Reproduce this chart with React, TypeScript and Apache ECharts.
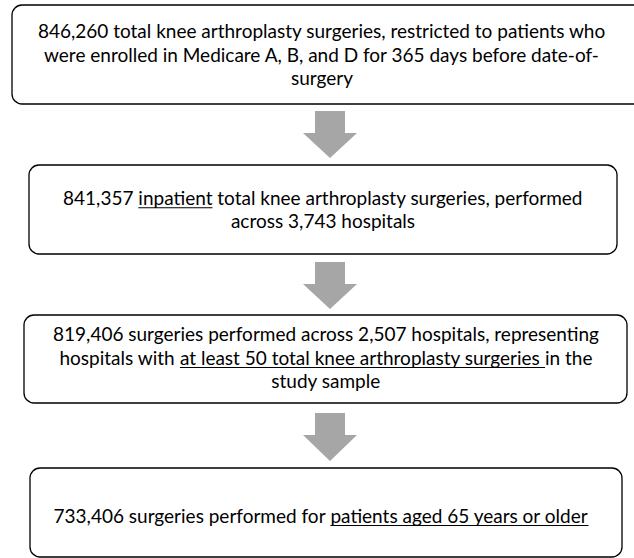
import React, { useEffect, useRef } from "react";
import * as echarts from "echarts";

type Seg = { t: string; u?: boolean };

const box1Lines: Seg[][] = [
  [{ t: "846,260 total knee arthroplasty surgeries, restricted to patients who" }],
  [{ t: "were enrolled in Medicare A, B, and D for 365 days before date-of-" }],
  [{ t: "surgery" }],
];
const box2Lines: Seg[][] = [
  [{ t: "841,357 " }, { t: "inpatient", u: true }, { t: " total knee arthroplasty surgeries, performed" }],
  [{ t: "across 3,743 hospitals" }],
];
const box3Lines: Seg[][] = [
  [{ t: "819,406 surgeries performed across 2,507 hospitals, representing" }],
  [{ t: "hospitals with " }, { t: "at least 50 total knee arthroplasty surgeries ", u: true }, { t: "in the" }],
  [{ t: "study sample" }],
];
const box4Lines: Seg[][] = [
  [{ t: "733,406 surgeries performed for " }, { t: "patients aged 65 years or older", u: true }],
];

const boxes = [
  { x: 12, y: 5, w: 640, h: 99, lines: box1Lines },
  { x: 29, y: 165, w: 588, h: 89, lines: box2Lines },
  { x: 24, y: 315, w: 603, h: 88, lines: box3Lines },
  { x: 30, y: 468, w: 592, h: 89, lines: box4Lines },
];
const arrows = [
  { top: 111, neck: 133, tip: 158 },
  { top: 262, neck: 284, tip: 309 },
  { top: 413, neck: 435, tip: 461 },
];

const FONT_SIZE = 19;
const FONT_FAMILY = "Lato";
const LINE_H = 23.5;

export default function App() {
  const ref = useRef<HTMLDivElement>(null);
  useEffect(() => {
    if (!ref.current) return;
    const chart = echarts.init(ref.current, null, { renderer: "svg" });
    const canvas = document.createElement("canvas");
    const ctx = canvas.getContext("2d")!;
    ctx.font = `${FONT_SIZE}px ${FONT_FAMILY}`;
    const measure = (s: string) => ctx.measureText(s).width;

    const elements: any[] = [];
    boxes.forEach((b) => {
      elements.push({
        type: "rect",
        shape: { x: b.x, y: b.y, width: b.w, height: b.h, r: 10 },
        style: { fill: "#fff", stroke: "#000", lineWidth: 1.3 },
      });
    });
    const cxText = [322, 323, 326, 321];
    const centerY = [54, 209, 357, 515];
    boxes.forEach((b, bi) => {
      const n = b.lines.length;
      const cx = cxText[bi];
      b.lines.forEach((line, li) => {
        const y = centerY[bi] + (li - (n - 1) / 2) * LINE_H;
        const total = line.reduce((s, seg) => s + measure(seg.t), 0);
        let x = cx - total / 2;
        line.forEach((seg) => {
          const w = measure(seg.t);
          elements.push({
            type: "text",
            x,
            y,
            style: {
              text: seg.t,
              fill: "#000",
              font: `${FONT_SIZE}px ${FONT_FAMILY}`,
              textAlign: "left",
              textVerticalAlign: "middle",
            },
          });
          if (seg.u) {
            elements.push({
              type: "line",
              shape: { x1: x, y1: y + 10.5, x2: x + w, y2: y + 10.5 },
              style: { stroke: "#000", lineWidth: 1 },
            });
          }
          x += w;
        });
      });
    });
    const acx = 330;
    arrows.forEach((a) => {
      elements.push({
        type: "polygon",
        shape: {
          points: [
            [acx - 15, a.top],
            [acx + 15, a.top],
            [acx + 15, a.neck],
            [acx + 27, a.neck],
            [acx, a.tip],
            [acx - 27, a.neck],
            [acx - 15, a.neck],
          ],
        },
        style: { fill: "#a6a6a6", stroke: "none" },
      });
    });

    chart.setOption({
      animation: false,
      backgroundColor: "#fff",
      graphic: { elements },
    });
    return () => chart.dispose();
  }, []);
  return (
    <div
      ref={ref}
      style={{ position: "fixed", left: 0, top: 0, width: 634, height: 558 }}
    />
  );
}
